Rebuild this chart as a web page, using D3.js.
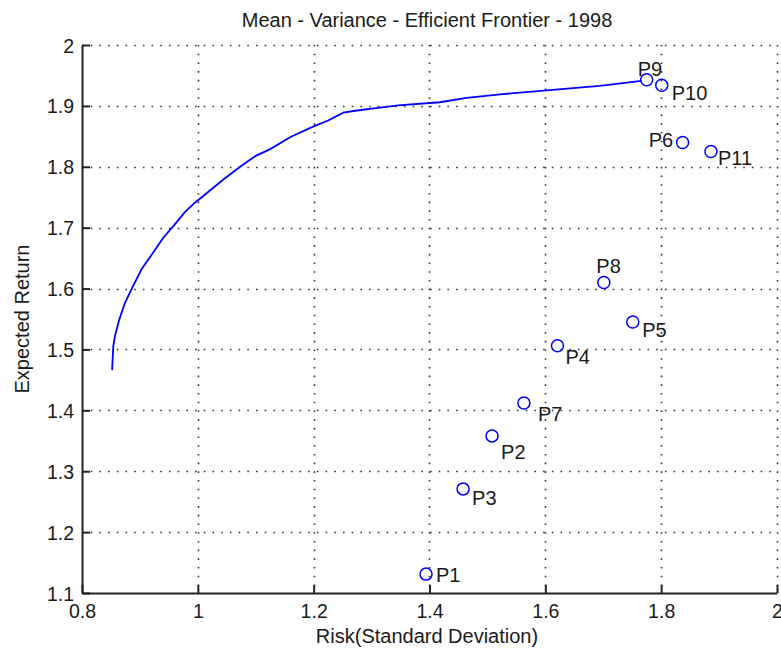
<!DOCTYPE html>
<html>
<head>
<meta charset="utf-8">
<script src="https://cdn.jsdelivr.net/npm/d3@7"></script>
<style>
  html, body { margin: 0; padding: 0; background: #fff; }
  svg { display: block; }
  text { font-family: "Liberation Sans", Arial, Helvetica, sans-serif; fill: #1a1a1a; }
</style>
</head>
<body>
<svg id="chart" width="781" height="649"></svg>
<script>
// Efficient frontier (risk vs expected return)
const frontierRisk = [0.852, 0.854, 0.857, 0.864, 0.874, 0.886, 0.903, 0.920, 0.940, 0.958,
  0.978, 0.995, 1.012, 1.044, 1.073, 1.100, 1.125, 1.160, 1.197, 1.225,
  1.251, 1.272, 1.297, 1.346, 1.418, 1.464, 1.522, 1.597, 1.694, 1.766];
const frontierReturn = [1.466, 1.505, 1.522, 1.548, 1.576, 1.600, 1.632, 1.655, 1.683, 1.703,
  1.726, 1.741, 1.754, 1.779, 1.800, 1.818, 1.829, 1.849, 1.865, 1.876,
  1.889, 1.892, 1.895, 1.901, 1.906, 1.913, 1.919, 1.925, 1.933, 1.941];

// Individual portfolios
const portfolioNames  = ["P1", "P2", "P3", "P4", "P5", "P6", "P7", "P8", "P9", "P10", "P11"];
const portfolioRisk   = [1.394, 1.508, 1.458, 1.621, 1.751, 1.837, 1.563, 1.701, 1.775, 1.801, 1.886];
const portfolioReturn = [1.131, 1.358, 1.271, 1.506, 1.545, 1.840, 1.412, 1.610, 1.943, 1.934, 1.825];

// Axis ticks
const xTicks = [0.8, 1, 1.2, 1.4, 1.6, 1.8, 2];
const yTicks = [1.1, 1.2, 1.3, 1.4, 1.5, 1.6, 1.7, 1.8, 1.9, 2];

// Label placement (pixel offsets from each marker; anchor start/end)
const labelPlacement = {
  P1:  { dx: 10,  dy: 8,   anchor: "start" },
  P2:  { dx: 9,   dy: 23,  anchor: "start" },
  P3:  { dx: 9,   dy: 16,  anchor: "start" },
  P4:  { dx: 8,   dy: 18,  anchor: "start" },
  P5:  { dx: 9.5, dy: 15,  anchor: "start" },
  P6:  { dx: -9.5, dy: 5,  anchor: "end" },
  P7:  { dx: 14,  dy: 17.5, anchor: "start" },
  P8:  { dx: -7.5, dy: -9, anchor: "start" },
  P9:  { dx: -9,  dy: -4,  anchor: "start" },
  P10: { dx: 10,  dy: 14.5, anchor: "start" },
  P11: { dx: 7,   dy: 13,  anchor: "start" }
};

const svg = d3.select("#chart");
const plotLeft = 82, plotRight = 777, plotTop = 45, plotBottom = 593;

const x = d3.scaleLinear().domain([0.8, 2]).range([plotLeft, plotRight]);
const y = d3.scaleLinear().domain([1.1, 2]).range([plotBottom, plotTop]);

// Dotted grid (also forms the top and right edges)
const grid = svg.append("g").attr("stroke", "#333").attr("stroke-width", 1.6)
  .attr("stroke-dasharray", "1.6,7.1");
grid.selectAll("line.gx").data(xTicks.slice(1)).join("line")
  .attr("x1", d => Math.round(x(d)) + 0.5).attr("x2", d => Math.round(x(d)) + 0.5)
  .attr("y1", plotTop).attr("y2", plotBottom);
grid.selectAll("line.gy").data(yTicks.slice(1)).join("line")
  .attr("y1", d => Math.round(y(d)) + 0.5).attr("y2", d => Math.round(y(d)) + 0.5)
  .attr("x1", plotLeft).attr("x2", plotRight);

// Axes with inward ticks
const xAxis = d3.axisBottom(x).tickValues(xTicks).tickSizeInner(-8).tickSizeOuter(0)
  .tickFormat(d3.format("~g"));
const yAxis = d3.axisLeft(y).tickValues(yTicks).tickSizeInner(-8).tickSizeOuter(0)
  .tickFormat(d3.format("~g"));

const gx = svg.append("g").attr("transform", `translate(0,${plotBottom})`).call(xAxis);
const gy = svg.append("g").attr("transform", `translate(${plotLeft},0)`).call(yAxis);
[gx, gy].forEach(g => {
  g.select(".domain").attr("stroke", "#222").attr("stroke-width", 2);
  g.selectAll(".tick line").attr("stroke", "#222").attr("stroke-width", 2);
  g.selectAll(".tick text").attr("font-size", 19.5).attr("fill", "#1a1a1a")
    .attr("font-family", "'Liberation Sans', Arial, sans-serif");
});
gx.selectAll(".tick text").attr("y", 11).attr("dy", "0.71em");
gy.selectAll(".tick text").attr("x", -8).attr("dy", "0.36em");

// Frontier line
const frontier = frontierRisk.map((r, i) => [r, frontierReturn[i]]);
svg.append("path")
  .datum(frontier)
  .attr("fill", "none")
  .attr("stroke", "#0000ff")
  .attr("stroke-width", 1.8)
  .attr("d", d3.line().x(d => x(d[0])).y(d => y(d[1])));

// Portfolio markers and labels
const pts = portfolioNames.map((n, i) => ({ name: n, risk: portfolioRisk[i], ret: portfolioReturn[i] }));
svg.append("g").selectAll("circle").data(pts).join("circle")
  .attr("cx", d => x(d.risk)).attr("cy", d => y(d.ret)).attr("r", 6)
  .attr("fill", "none").attr("stroke", "#0000ff").attr("stroke-width", 1.5);

svg.append("g").selectAll("text").data(pts).join("text")
  .attr("x", d => x(d.risk) + labelPlacement[d.name].dx)
  .attr("y", d => y(d.ret) + labelPlacement[d.name].dy)
  .attr("text-anchor", d => labelPlacement[d.name].anchor)
  .attr("font-size", 20)
  .text(d => d.name);

// Title and axis labels
svg.append("text").attr("x", 427).attr("y", 27).attr("text-anchor", "middle")
  .attr("font-size", 20).text("Mean - Variance - Efficient Frontier - 1998");
svg.append("text").attr("x", 427).attr("y", 643).attr("text-anchor", "middle")
  .attr("font-size", 20).text("Risk(Standard Deviation)");
svg.append("text").attr("transform", `translate(29,${(plotTop + plotBottom) / 2}) rotate(-90)`)
  .attr("text-anchor", "middle").attr("font-size", 20).text("Expected Return");
</script>
</body>
</html>
